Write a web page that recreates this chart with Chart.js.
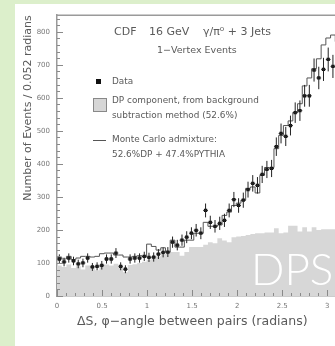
<!DOCTYPE html>
<html>
<head>
<meta charset="utf-8">
<script src="https://cdn.jsdelivr.net/npm/chart.js@4.4.1/dist/chart.umd.min.js"></script>
<style>
  html, body { margin: 0; padding: 0; overflow: hidden; background: #dcefcb; width: 335px; height: 346px; }
  #wrap { position: absolute; left: 15px; top: 4px; width: 330px; height: 342px; background: #fff; }
</style>
</head>
<body>
<div id="wrap"><canvas id="dpsChart" width="330" height="342"></canvas></div>
<script>
// 60 bins of 0.052 rad between 0 and pi
const nBins = 60;
const binWidth = Math.PI / nBins;

// measured data (events per bin) and their errors
const dataCounts = [112, 103, 115, 106, 97, 100, 115, 88, 90, 93,
  112, 112, 130, 90, 81, 112, 115, 115, 120, 117,
  118, 127, 132, 133, 163, 154, 169, 178, 190, 199,
  190, 259, 223, 211, 220, 229, 259, 292, 274, 290,
  322, 341, 335, 368, 383, 386, 452, 492, 483, 516,
  555, 561, 606, 606, 684, 660, 686, 716, 695, 720];
const dataErrors = [14, 13, 14, 13, 13, 13, 14, 12, 12, 13,
  14, 14, 15, 12, 12, 14, 14, 14, 14, 14,
  14, 15, 15, 15, 17, 16, 17, 18, 18, 19,
  18, 21, 20, 19, 20, 20, 21, 23, 22, 23,
  24, 25, 25, 26, 26, 26, 28, 30, 29, 30,
  31, 31, 33, 33, 35, 34, 35, 36, 35, 36];

// Monte Carlo admixture 52.6% DP + 47.4% PYTHIA
const mcCounts = [118, 112, 120, 110, 115, 120, 120, 118, 120, 128,
  130, 130, 124, 124, 118, 118, 120, 122, 120, 157,
  150, 139, 146, 133, 169, 148, 148, 169, 169, 190,
  190, 223, 211, 211, 215, 244, 254, 274, 281, 290,
  326, 330, 312, 365, 389, 389, 446, 486, 516, 530,
  555, 582, 636, 660, 688, 718, 760, 781, 790, 770];

// DP component from background subtraction
const dpCounts = [92, 88, 95, 85, 90, 80, 92, 88, 78, 90,
  95, 92, 98, 88, 72, 94, 96, 100, 104, 110,
  115, 120, 128, 133, 133, 133, 122, 133, 148, 148,
  148, 155, 163, 160, 175, 168, 163, 178, 180, 182,
  185, 188, 190, 190, 192, 192, 205, 190, 192, 213,
  213, 195, 208, 195, 208, 200, 202, 202, 202, 202];

const xTicks = [0, 0.5, 1, 1.5, 2, 2.5, 3];
const yTicks = [0, 100, 200, 300, 400, 500, 600, 700, 800];

// histogram as stepped line: one point per left bin edge plus the closing edge
function stepPoints(vals) {
  const pts = vals.map((v, i) => ({ x: i * binWidth, y: v }));
  pts.push({ x: nBins * binWidth, y: vals[vals.length - 1] });
  return pts;
}

const dataPoints = dataCounts.map((v, i) => ({ x: (i + 0.5) * binWidth, y: v, e: dataErrors[i] }));

const textColor = '#5a5a5a';
const frameColor = '#9a9a9a';
const textFont = '"DejaVu Sans"';

// frame, inward tick marks, error bars, legend and the labels inside the plot
const decorations = {
  id: 'decorations',
  afterDatasetsDraw(chart) {
    const ctx = chart.ctx;
    const area = chart.chartArea;
    const xs = chart.scales.x, ys = chart.scales.y;
    ctx.save();

    // DPS label on the grey component
    ctx.fillStyle = '#ffffff';
    ctx.font = '300 44px Lato';
    ctx.textBaseline = 'alphabetic';
    ctx.textAlign = 'left';
    ctx.fillText('DPS', 236, 281);

    // error bars
    ctx.strokeStyle = '#222';
    ctx.lineWidth = 1;
    dataPoints.forEach(p => {
      const px = xs.getPixelForValue(p.x);
      ctx.beginPath();
      ctx.moveTo(px, ys.getPixelForValue(p.y - p.e));
      ctx.lineTo(px, ys.getPixelForValue(p.y + p.e));
      ctx.moveTo(xs.getPixelForValue(p.x - binWidth / 2), ys.getPixelForValue(p.y));
      ctx.lineTo(xs.getPixelForValue(p.x + binWidth / 2), ys.getPixelForValue(p.y));
      ctx.stroke();
    });

    // top frame line
    ctx.strokeStyle = frameColor;
    ctx.lineWidth = 1.5;
    ctx.beginPath();
    ctx.moveTo(area.left, area.top);
    ctx.lineTo(area.right + 10, area.top);
    ctx.stroke();

    // inward ticks
    ctx.lineWidth = 1;
    ctx.strokeStyle = '#8a8a8a';
    ctx.beginPath();
    for (let v = 0; v <= 840; v += 20) {
      const py = Math.round(ys.getPixelForValue(v)) + 0.5;
      const len = v % 100 === 0 ? 6 : 3;
      ctx.moveTo(area.left, py);
      ctx.lineTo(area.left + len, py);
    }
    for (let k = 0; k <= 31; k++) {
      const px = Math.round(xs.getPixelForValue(k / 10)) + 0.5;
      const len = k % 5 === 0 ? 6 : 3;
      ctx.moveTo(px, area.bottom);
      ctx.lineTo(px, area.bottom - len);
    }
    ctx.stroke();

    // header
    ctx.fillStyle = textColor;
    ctx.textBaseline = 'middle';
    ctx.font = '11px ' + textFont;
    ctx.fillText('CDF', 99, 28);
    ctx.fillText('16 GeV', 134, 28);
    ctx.fillText('\u03b3/\u03c0\u2070 + 3 Jets', 188, 28);
    ctx.font = '9.5px ' + textFont;
    ctx.fillText('1\u2212Vertex Events', 142, 47);

    // legend
    ctx.font = '8.9px ' + textFont;
    ctx.fillStyle = '#111';
    ctx.fillRect(81, 75, 5, 5);
    ctx.fillStyle = textColor;
    ctx.fillText('Data', 97, 78);

    ctx.fillStyle = '#d6d6d6';
    ctx.fillRect(78, 94, 14, 14);
    ctx.strokeStyle = '#888';
    ctx.strokeRect(78.5, 94.5, 13, 13);
    ctx.fillStyle = textColor;
    ctx.fillText('DP component, from background', 97, 97);
    ctx.fillText('subtraction method (52.6%)', 97, 112);

    ctx.strokeStyle = '#555';
    ctx.beginPath();
    ctx.moveTo(78, 136.5);
    ctx.lineTo(91, 136.5);
    ctx.stroke();
    ctx.fillText('Monte Carlo admixture:', 97, 136);
    ctx.fillText('52.6%DP + 47.4%PYTHIA', 97, 151);

    ctx.restore();
  }
};

new Chart(document.getElementById('dpsChart').getContext('2d'), {
  type: 'scatter',
  data: {
    datasets: [
      {
        // data points
        data: dataPoints,
        pointStyle: 'rect',
        pointRadius: 2.3,
        backgroundColor: '#111',
        borderColor: '#111',
        borderWidth: 0,
        order: 0
      },
      {
        // Monte Carlo histogram
        type: 'line',
        data: stepPoints(mcCounts),
        stepped: true,
        borderColor: '#555',
        borderWidth: 1,
        pointRadius: 0,
        fill: false,
        order: 1
      },
      {
        // DP component, filled
        type: 'line',
        data: stepPoints(dpCounts),
        stepped: true,
        borderWidth: 0,
        borderColor: 'rgba(0,0,0,0)',
        backgroundColor: '#d7d7d7',
        pointRadius: 0,
        fill: 'origin',
        order: 2
      }
    ]
  },
  options: {
    responsive: false,
    animation: false,
    devicePixelRatio: 1,
    layout: { padding: { top: 11, right: 5, left: 0, bottom: 0 } },
    plugins: { legend: { display: false }, tooltip: { enabled: false } },
    scales: {
      x: {
        type: 'linear',
        min: 0,
        max: Math.PI,
        afterFit(scale) { scale.height = 50; },
        afterBuildTicks(scale) { scale.ticks = xTicks.map(v => ({ value: v })); },
        grid: { display: true, drawOnChartArea: false, drawTicks: false },
        border: { display: true, color: frameColor, width: 1.5 },
        ticks: {
          color: '#777',
          font: { size: 7, family: 'DejaVu Sans' },
          padding: 6,
          maxRotation: 0,
          callback: v => String(v)
        },
        title: {
          display: true,
          text: '\u0394S, \u03c6\u2212angle between pairs (radians)\u2003',
          color: textColor,
          font: { size: 12.5, family: 'DejaVu Sans' },
          padding: { top: 0, bottom: 17 }
        }
      },
      y: {
        min: 0,
        max: 850,
        afterFit(scale) { scale.width = 42; },
        afterBuildTicks(scale) { scale.ticks = yTicks.map(v => ({ value: v })); },
        grid: { display: true, drawOnChartArea: false, drawTicks: false },
        border: { display: true, color: frameColor, width: 1.5 },
        ticks: {
          color: '#777',
          font: { size: 7, family: 'DejaVu Sans' },
          padding: 7
        },
        title: {
          display: true,
          align: 'end',
          text: 'Number of Events / 0.052 radians',
          color: textColor,
          font: { size: 11, family: 'DejaVu Sans' },
          padding: { top: 7, bottom: 0 }
        }
      }
    }
  },
  plugins: [decorations]
});
</script>
</body>
</html>
